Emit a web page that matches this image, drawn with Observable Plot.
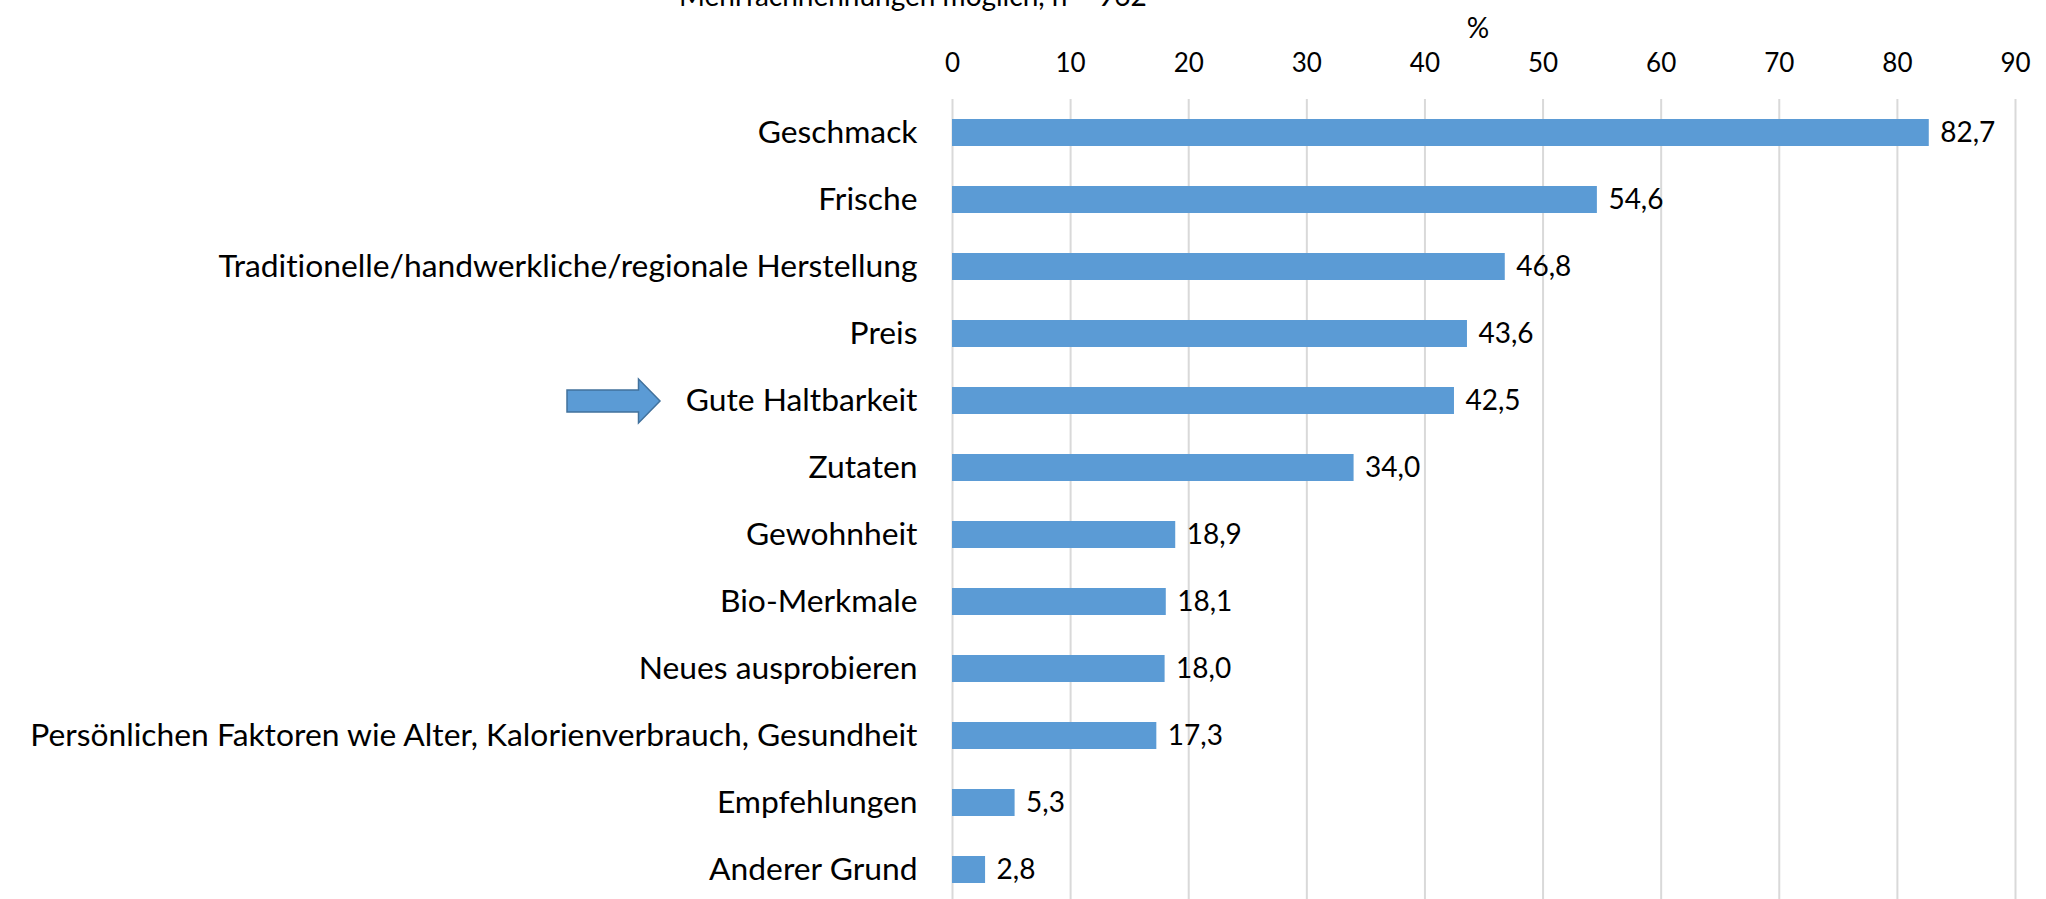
<!DOCTYPE html>
<html>
<head>
<meta charset="utf-8">
<script src="https://cdn.jsdelivr.net/npm/d3@7"></script>
<script src="https://cdn.jsdelivr.net/npm/@observablehq/plot@0.6"></script>
<style>
  html, body { margin: 0; padding: 0; background: #fff; overflow: hidden; }
  #wrap { position: relative; width: 2046px; height: 899px; }
  #note { position: absolute; left: 679px; top: -19px; font: 28px Lato, sans-serif; color: #000; white-space: nowrap; line-height: 1; font-variant-ligatures: none; }
  svg { display: block; }
  svg text { font-variant-ligatures: none; font-feature-settings: "liga" 0, "clig" 0; }
</style>
</head>
<body>
<div id="wrap">
  <div id="note">Mehrfachnennungen möglich, n = 962</div>
</div>
<script>
const categories = [
  "Geschmack",
  "Frische",
  "Traditionelle/handwerkliche/regionale Herstellung",
  "Preis",
  "Gute Haltbarkeit",
  "Zutaten",
  "Gewohnheit",
  "Bio-Merkmale",
  "Neues ausprobieren",
  "Persönlichen Faktoren wie Alter, Kalorienverbrauch, Gesundheit",
  "Empfehlungen",
  "Anderer Grund"
];
const values = [82.7, 54.6, 46.8, 43.6, 42.5, 34.0, 18.9, 18.1, 18.0, 17.3, 5.3, 2.8];
const xTicks = [0, 10, 20, 30, 40, 50, 60, 70, 80, 90];
const highlighted = ["Gute Haltbarkeit"];
const axisUnit = "%";

const data = categories.map((c, i) => ({category: c, value: values[i]}));
const fmt = v => v.toFixed(1).replace(".", ",");

const arrowSymbol = {
  draw(ctx) {
    ctx.moveTo(-46.5, -11);
    ctx.lineTo(25, -11);
    ctx.lineTo(25, -22);
    ctx.lineTo(46.5, 0);
    ctx.lineTo(25, 22);
    ctx.lineTo(25, 11);
    ctx.lineTo(-46.5, 11);
    ctx.closePath();
  }
};

const chart = Plot.plot({
  width: 2046,
  height: 899,
  marginLeft: 952,
  marginRight: 31,
  marginTop: 99,
  marginBottom: 0,
  style: {fontFamily: "Lato, sans-serif", color: "#000", background: "#fff"},
  x: {domain: [0, 90], axis: null},
  y: {domain: categories, range: [78, 923], padding: 0.6, axis: null},
  marks: [
    Plot.gridX(xTicks, {stroke: "#d9d9d9", strokeOpacity: 1, strokeWidth: 2}),
    Plot.barX(data, {y: "category", x: "value", fill: "#5B9BD5"}),
    Plot.text(data, {y: "category", x: "value", text: d => fmt(d.value), textAnchor: "start", dx: 11, fontSize: 28, fill: "#000"}),
    Plot.axisX(xTicks, {anchor: "top", tickSize: 0, tickPadding: 28, fontSize: 26, label: null, tickFormat: d => String(d)}),
    Plot.axisY({anchor: "left", tickSize: 0, tickPadding: 35, fontSize: 31.8, label: null}),
    Plot.text([axisUnit], {frameAnchor: "top", dy: -81, dx: -6, text: d => d, fontSize: 28, fill: "#000"}),
    Plot.dot(highlighted, {y: d => d, frameAnchor: "left", dx: -339, symbol: arrowSymbol, fill: "#5B9BD5", stroke: "#41719C", strokeWidth: 1.5})
  ]
});
document.getElementById("wrap").prepend(chart);
</script>
</body>
</html>
